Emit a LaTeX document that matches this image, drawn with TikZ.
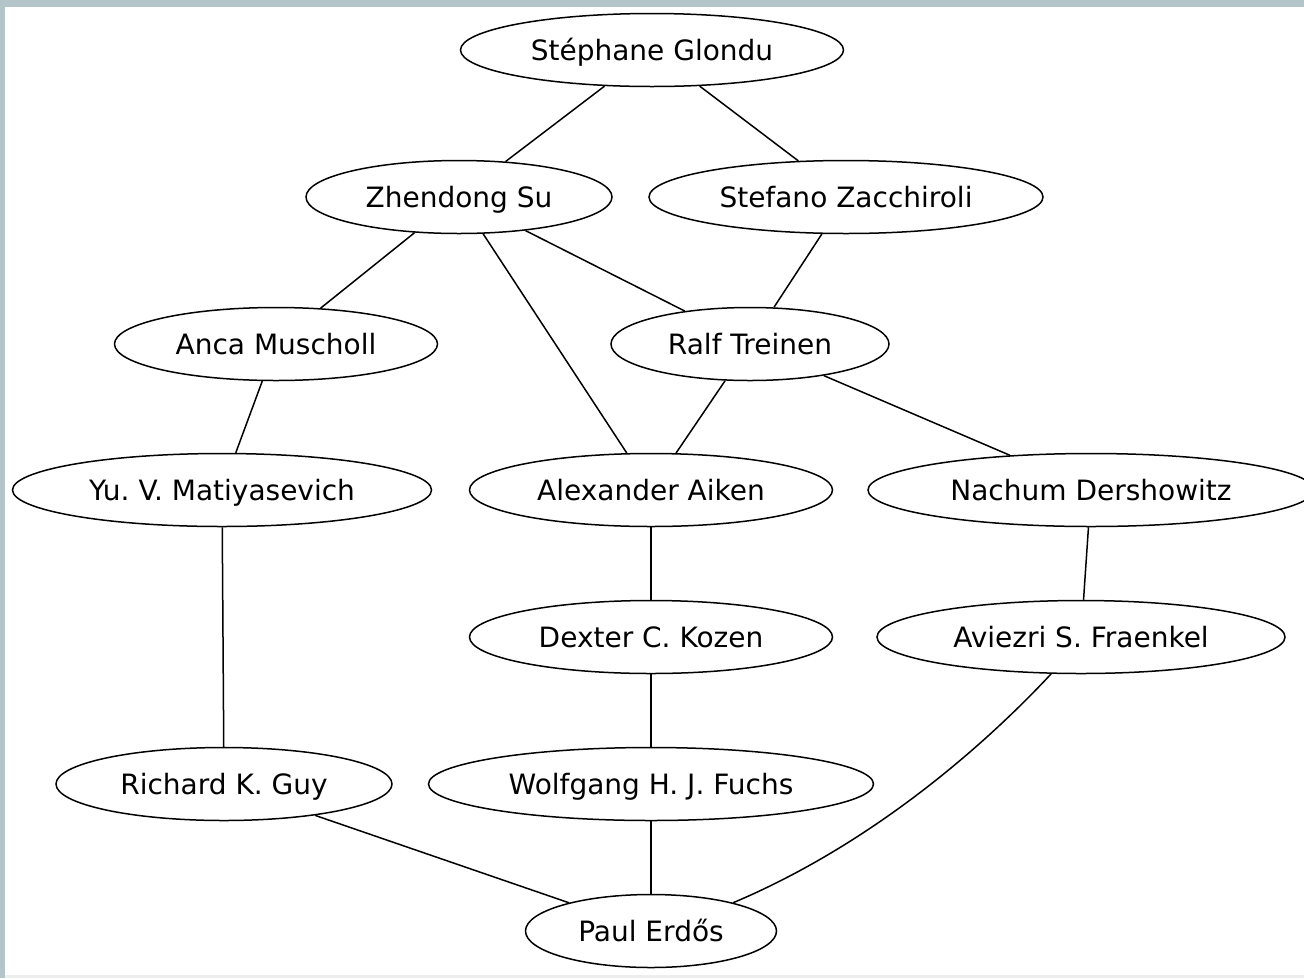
\documentclass[tikz,border=0pt]{standalone}
\usepackage{fontspec}
\setmainfont{DejaVu Sans}
\usetikzlibrary{shapes.geometric}
\definecolor{edgebg}{HTML}{B4C5CA}
\definecolor{botbg}{HTML}{EDEFEF}
\frenchspacing
\begin{document}
\begin{tikzpicture}[x=1pt,y=-1pt,
  person/.style={ellipse,draw=black,line width=1.5pt,fill=white,inner sep=0pt,
    minimum height=73pt,text height=20pt,text depth=0pt,
    font=\fontsize{28}{33}\selectfont},
  link/.style={line width=1.5pt,draw=black}]
\useasboundingbox (0,0) rectangle (1304,978);
\fill[edgebg] (0,0) rectangle (1304,978);
\fill[botbg] (5,970) rectangle (1304,978);
\fill[white] (5,7) rectangle (1304,975);
\begin{scope}
\clip (5,7) rectangle (1304,975);
\node[person,minimum width=383pt] (sg) at (652,50) {Stéphane Glondu};
\node[person,minimum width=306pt] (zs) at (459,197) {Zhendong Su};
\node[person,minimum width=394pt] (sz) at (846,197) {Stefano Zacchiroli};
\node[person,minimum width=323pt] (am) at (276,344) {Anca Muscholl};
\node[person,minimum width=278pt] (rt) at (750,344) {Ralf Treinen};
\node[person,minimum width=419pt] (ym) at (222,490) {Yu.\ V.\ Matiyasevich};
\node[person,minimum width=363pt] (aa) at (651,490) {Alexander Aiken};
\node[person,minimum width=446pt] (nd) at (1091,490) {Nachum Dershowitz};
\node[person,minimum width=363pt] (dk) at (651,637) {Dexter C. Kozen};
\node[person,minimum width=408pt] (af) at (1081,637) {Aviezri S. Fraenkel};
\node[person,minimum width=336pt] (rg) at (224,784) {Richard K. Guy};
\node[person,minimum width=445pt] (wf) at (651,784) {Wolfgang H. J. Fuchs};
\node[person,minimum width=251pt] (pe) at (651,931) {Paul Erdős};
\end{scope}
\draw[link] (sg) -- (zs);
\draw[link] (sg) -- (sz);
\draw[link] (zs) -- (am);
\draw[link] (zs) -- (aa);
\draw[link] (zs) -- (rt);
\draw[link] (sz) -- (rt);
\draw[link] (am) -- (ym);
\draw[link] (rt) -- (aa);
\draw[link] (rt) -- (nd);
\draw[link] (ym) -- (rg);
\draw[link] (aa) -- (dk);
\draw[link] (nd) -- (af);
\draw[link] (dk) -- (wf);
\draw[link] (rg) -- (pe);
\draw[link] (wf) -- (pe);
\draw[link] (af.-129) .. controls (982,748) and (870,845) .. (pe.19);
\end{tikzpicture}
\end{document}
